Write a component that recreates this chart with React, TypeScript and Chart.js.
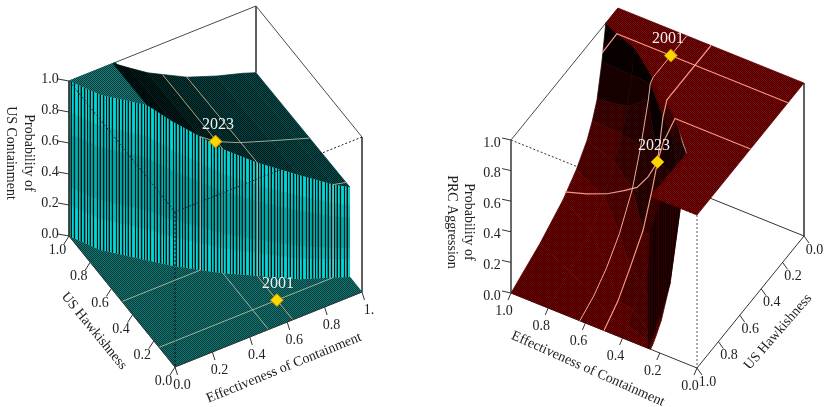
import React, { useEffect, useRef } from "react";
import { Chart, registerables } from "chart.js";

Chart.register(...registerables);

const zTicks = [0, 0.2, 0.4, 0.6, 0.8, 1];
const tickLabels = ["0.0", "0.2", "0.4", "0.6", "0.8", "1.0"];
const usEffectLabels = ["0.0", "0.2", "0.4", "0.6", "0.8", "1."];

// US containment surface: cliff line and surface height either side of it
const usCliffE = [0.236, 0.32, 0.42, 0.5, 0.63, 0.79, 0.93, 1];
const usCliffH = [0.68, 0.59, 0.5, 0.43, 0.335, 0.218, 0.15, 0.114];
const usCliffZ = [1, 0.93, 0.86, 0.8, 0.73, 0.67, 0.6, 0.58];
const usBackZ = [1, 0.93, 0.85, 0.8, 0.72, 0.65, 0.6, 0.57];
const usWallBaseE = [0, 0.08, 0.236, 0.32, 0.42, 0.5, 0.63, 0.79, 0.93, 1];
const usWallBaseH = [1, 0.85, 0.68, 0.59, 0.5, 0.43, 0.335, 0.218, 0.15, 0.114];
const usWallTopZ = [1, 1, 1, 0.93, 0.86, 0.8, 0.73, 0.67, 0.6, 0.58];
const usFlatE = [0, 0.25, 0.239, 0.236, 0.08];
const usFlatH = [1, 1, 0.817, 0.68, 0.85];

// US reference lines on the surface: [E, H, z] rows
const usLineE50: number[][] = [[0.5, 1, 0.8], [0.5, 0.43, 0.8]];
const usLineE63: number[][] = [[0.63, 1, 0.72], [0.63, 0.335, 0.73]];
const usLineH50: number[][] = [[0.42, 0.5, 0.86], [0.5, 0.5, 0.79], [0.63, 0.5, 0.72], [0.8, 0.5, 0.65], [1, 0.5, 0.57]];
const usLineH15: number[][] = [[0.93, 0.15, 0.6], [1, 0.15, 0.58]];
const usFloorLines: number[][][] = [
  [[0, 0.5, 0], [0.42, 0.5, 0]],
  [[0, 0.15, 0], [0.93, 0.15, 0]],
  [[0.5, 0, 0], [0.5, 0.43, 0]],
];
const usFloorLine63: number[][] = [[0.63, 0, 0], [0.63, 0.335, 0]];
const usWallLines: number[][][] = [
  [[0.42, 0.5, 0], [0.42, 0.5, 0.86]],
  [[0.63, 0.335, 0], [0.63, 0.335, 0.73]],
  [[0.93, 0.15, 0], [0.93, 0.15, 0.6]],
];
const usWallLineFaint: number[][] = [[0.5, 0.43, 0], [0.5, 0.43, 0.8]];
const us2023 = [0.5, 0.5, 0.79];
const us2001 = [0.63, 0.15, 0];

// PRC aggression surface: sloped sheet, one row per effectiveness value
const prcE = [1, 0.8, 0.63, 0.5, 0.4, 0.3, 0.25];
const prcH = [
  [0.114, 0.15, 0.196, 0.24, 0.29, 0.39, 0.514, 0.73, 1],
  [0.19, 0.22, 0.26, 0.31, 0.38, 0.48, 0.6, 0.8, 1],
  [0.316, 0.342, 0.36, 0.43, 0.51, 0.63, 0.75, 0.87, 1],
  [0.412, 0.449, 0.5, 0.551, 0.635, 0.757, 0.87, 0.94, 1],
  [0.5, 0.53, 0.57, 0.6, 0.7, 0.82, 0.9, 0.95, 1],
  [0.62, 0.66, 0.69, 0.72, 0.8, 0.88, 0.94, 0.97, 1],
  [0.67, 0.7, 0.71, 0.724, 0.818, 0.9, 0.95, 0.98, 1],
];
const prcZ = [
  [1, 0.78, 0.57, 0.47, 0.385, 0.28, 0.19, 0.09, 0],
  [1, 0.85, 0.68, 0.54, 0.42, 0.28, 0.17, 0.07, 0],
  [1, 0.98, 0.89, 0.65, 0.435, 0.25, 0.13, 0.05, 0],
  [1, 0.92, 0.67, 0.53, 0.34, 0.2, 0.08, 0.03, 0],
  [1, 0.9, 0.72, 0.62, 0.38, 0.2, 0.1, 0.04, 0],
  [1, 0.85, 0.73, 0.62, 0.3, 0.12, 0.05, 0.02, 0],
  [1, 0.8, 0.73, 0.67, 0.27, 0.1, 0.04, 0.01, 0],
];
const prcPlateauE = [1, 0, 0, 0.25, 0.244, 0.406, 0.63, 0.8, 0.92, 1];
const prcPlateauH = [0, 0, 1, 1, 0.669, 0.5, 0.316, 0.19, 0.15, 0.114];
const prcCliffE = [0.26, 0.377, 0.433, 0.4, 0.25, 0.25, 0.25];
const prcCliffH = [1, 0.8, 0.687, 0.6, 0.67, 0.724, 0.818];
const prcCliffZ = [0, 0.2, 0.4, 0.62, 1, 0.67, 0.27];

const prcLineH15: number[][] = [[1, 0.15, 0.835], [0.92, 0.15, 1], [0, 0.15, 1]];
const prcLineH50: number[][] = [[1, 0.5, 0.23], [0.88, 0.5, 0.275], [0.77, 0.5, 0.33], [0.68, 0.5, 0.395], [0.61, 0.5, 0.45], [0.55, 0.5, 0.55], [0.5, 0.5, 0.67], [0.47, 0.5, 0.81], [0.406, 0.5, 1], [0, 0.5, 1]];
const prcLineE50: number[][] = [[0.5, 0, 1], [0.5, 0.412, 1], [0.5, 0.449, 0.92], [0.5, 0.5, 0.67], [0.5, 0.551, 0.53], [0.5, 0.635, 0.34], [0.5, 0.757, 0.2], [0.5, 0.87, 0.08], [0.5, 1, 0]];
const prcLineE63: number[][] = [[0.63, 0, 1], [0.63, 0.316, 1], [0.63, 0.342, 0.98], [0.63, 0.36, 0.89], [0.63, 0.43, 0.65], [0.63, 0.51, 0.435], [0.63, 0.63, 0.25], [0.63, 0.75, 0.13], [0.63, 0.87, 0.05], [0.63, 1, 0]];
const prc2023 = [0.5, 0.5, 0.67];
const prc2001 = [0.63, 0.15, 1];

// ---------- view of each panel ----------
const pUS = (E: number, H: number, z: number) => ({ x: 175 + 187 * E - 106 * H, y: 367 - 75 * E - 131 * H - 155 * z });
const pPRC = (E: number, H: number, z: number) => ({ x: 804 - 186 * E - 107 * H, y: 236 - 75 * E + 132 * H - 153 * z });

const FONT = '"Liberation Serif", serif';

function patternFrom(rows: string[][]) {
  const c = document.createElement("canvas");
  c.height = rows.length;
  c.width = rows[0].length;
  const g = c.getContext("2d")!;
  rows.forEach((r, y) => r.forEach((col, x) => {
    g.fillStyle = col;
    g.fillRect(x, y, 1, 1);
  }));
  return g.createPattern(c, "repeat")!;
}
const dither = (a: string, b: string) => patternFrom([[a, b], [b, a]]);

function poly(points: { x: number; y: number }[], fill: any, bw = 0.7) {
  return {
    data: [...points, points[0]],
    showLine: true,
    fill: "shape",
    backgroundColor: fill,
    borderColor: fill,
    borderWidth: bw,
    pointRadius: 0,
    tension: 0,
  };
}
function line(points: { x: number; y: number }[], color: string, width = 1, dash: number[] = []) {
  return {
    data: points,
    showLine: true,
    fill: false,
    borderColor: color,
    backgroundColor: color,
    borderWidth: width,
    borderDash: dash,
    pointRadius: 0,
    tension: 0,
  };
}
function marker(p: { x: number; y: number }) {
  return {
    data: [p],
    showLine: false,
    pointStyle: "rectRot",
    pointRadius: 6.5,
    pointBackgroundColor: "#FFD400",
    pointBorderColor: "#B08C00",
    pointBorderWidth: 1,
  };
}

export default function App() {
  const ref = useRef<HTMLCanvasElement>(null);
  useEffect(() => {
    const ds: any[] = [];
    const at = (p: typeof pUS, r: number[]) => p(r[0], r[1], r[2]);
    const path = (p: typeof pUS, rows: number[][]) => rows.map((r) => at(p, r));
    const texts: any[] = [];

    // ---------- left panel ----------
    const boxCol = "#4a4a4a";
    const tealFloor = dither("#043c3c", "#137470");
    const tealFlat = dither("#063c3c", "#1a7c78");
    const topShades = [
      dither("#000606", "#001616"),
      dither("#000808", "#001c1c"),
      dither("#000c0c", "#012a2a"),
      dither("#001414", "#013a3a"),
      dither("#001a1a", "#024444"),
      dither("#001e1e", "#024a4a"),
      dither("#002020", "#024e4e"),
    ];
    const wallPattern = patternFrom([
      ["#00dada", "#00c8c8", "#000c0c", "#00d0d0", "#008888", "#000404", "#00d8d8", "#00bcbc", "#001010", "#009c9c", "#00dcdc", "#000404", "#00c8c8", "#009090", "#000c0c", "#00d8d8", "#00acac", "#000808", "#00c4c4"],
    ]);

    ds.push(line([pUS(0, 1, 1), pUS(1, 1, 1)], boxCol));
    ds.push(line([pUS(1, 1, 1), pUS(1, 0, 1)], boxCol));
    ds.push(line([pUS(1, 1, 1), pUS(1, 1, 0.57)], boxCol));
    ds.push(line([pUS(1, 0, 1), pUS(1, 0, 0)], boxCol));

    // floor
    const floorPts = [pUS(0, 0, 0), pUS(1, 0, 0)];
    for (let i = usWallBaseE.length - 1; i >= 0; i--) floorPts.push(pUS(usWallBaseE[i], usWallBaseH[i], 0));
    ds.push(poly(floorPts, tealFloor));
    // flat top corner
    ds.push(poly(usFlatE.map((E, i) => pUS(E, usFlatH[i], 1)), tealFlat));
    // sloped top, one strip per cliff sample
    for (let i = 0; i < usCliffE.length - 1; i++) {
      ds.push(poly([
        pUS(usCliffE[i], usCliffH[i], usCliffZ[i]),
        pUS(usCliffE[i + 1], usCliffH[i + 1], usCliffZ[i + 1]),
        pUS(usCliffE[i + 1], 1, usBackZ[i + 1]),
        pUS(usCliffE[i], 1, usBackZ[i]),
      ], topShades[i]));
    }
    // wall
    const wallPts = usWallBaseE.map((E, i) => pUS(E, usWallBaseH[i], usWallTopZ[i]));
    for (let i = usWallBaseE.length - 1; i >= 0; i--) wallPts.push(pUS(usWallBaseE[i], usWallBaseH[i], 0));
    ds.push(poly(wallPts, wallPattern, 0));
    // see-through darkening of the wall, in two soft bands
    [[0.2, 0.8, 0.14], [0.32, 0.66, 0.16]].forEach(([lo, hi, alpha]) => {
      const veil = usWallBaseE.map((E, i) => pUS(E, usWallBaseH[i], usWallTopZ[i] * hi));
      for (let i = usWallBaseE.length - 1; i >= 0; i--) veil.push(pUS(usWallBaseE[i], usWallBaseH[i], usWallTopZ[i] * lo));
      ds.push(poly(veil, `rgba(0,60,60,${alpha})`, 0));
    });

    // dotted hidden edges
    const dot = [2, 2];
    ds.push(line([pUS(1, 0, 1), pUS(0, 0, 1)], "#123", 1, dot));
    ds.push(line([pUS(0, 1, 1), pUS(0, 0, 1)], "#123", 1, dot));
    ds.push(line([pUS(0, 0, 1), pUS(0, 0, 0)], "#012", 1, dot));

    // reference lines
    const tan = "rgba(226,170,130,0.85)";
    const pale = "rgba(205,195,170,0.8)";
    const grey = "rgba(190,180,170,0.75)";
    ds.push(line(path(pUS, usLineE50), tan));
    ds.push(line(path(pUS, usLineE63), tan));
    ds.push(line(path(pUS, usLineH50), pale));
    ds.push(line(path(pUS, usLineH15), pale));
    usFloorLines.forEach((l) => ds.push(line(path(pUS, l), pale)));
    ds.push(line(path(pUS, usFloorLine63), tan));
    usWallLines.forEach((l) => ds.push(line(path(pUS, l), grey, 1.2)));
    ds.push(line(path(pUS, usWallLineFaint), "rgba(190,180,170,0.35)"));

    // axes of the left panel
    ds.push(line([pUS(0, 1, 1), pUS(0, 1, 0)], "#333"));
    ds.push(line([pUS(0, 0, 0), pUS(1, 0, 0)], "#333"));
    ds.push(line([pUS(0, 0, 0), pUS(0, 1, 0)], "#333"));
    zTicks.forEach((v, i) => {
      const a = pUS(0, 1, v);
      ds.push(line([a, { x: a.x - 11, y: a.y - 2 }], "#333"));
      texts.push({ t: tickLabels[i], x: a.x - 19, y: a.y - 2 });
      const b = pUS(0, v, 0);
      ds.push(line([b, { x: b.x - 5, y: b.y + 8 }], "#333"));
      texts.push({ t: tickLabels[i], x: b.x - 11.5, y: b.y + 14.5 });
      const c = pUS(v, 0, 0);
      ds.push(line([c, { x: c.x + 2.5, y: c.y + 8 }], "#333"));
      texts.push({ t: usEffectLabels[i], x: c.x + 7, y: c.y + 18.5 });
    });
    texts.push({ t: "Probability of", x: 29, y: 153, r: 90 });
    texts.push({ t: "US Containment", x: 11, y: 153, r: 90 });
    texts.push({ t: "US Hawkishness", x: 94, y: 331, r: 50.6 });
    texts.push({ t: "Effectiveness of Containment", x: 284, y: 368, r: -22.2 });
    ds.push(marker(at(pUS, us2023)));
    ds.push(marker(at(pUS, us2001)));
    texts.push({ t: "2023", x: 218, y: 125, s: 16, c: "#eef4f4" });
    texts.push({ t: "2001", x: 278, y: 284, s: 16, c: "#eef4f4" });

    // ---------- right panel ----------
    const redLevels = [
      dither("#300000", "#800000"),
      dither("#280000", "#680000"),
      dither("#1c0000", "#500000"),
      dither("#120000", "#380000"),
      dither("#0a0000", "#240000"),
      dither("#000000", "#100000"),
    ];
    const redPlateau = dither("#380000", "#8a0404");
    const redCliff = patternFrom([["#2c0000", "#200000", "#140000", "#260000", "#100000", "#2a0000", "#180000"]]);

    ds.push(line([pPRC(1, 1, 1), pPRC(1, 0, 1)], boxCol));
    ds.push(line([pPRC(0, 0, 1), pPRC(0, 0, 0)], boxCol));
    ds.push(line([pPRC(1, 1, 1), pPRC(0, 1, 1)], "#333", 1, dot));
    ds.push(line([pPRC(0, 1, 1), pPRC(0, 1, 0)], "#555", 1, dot));
    ds.push(line([pPRC(1, 0, 0), pPRC(0, 0, 0)], "#333"));
    ds.push(line([pPRC(1, 1, 0), pPRC(0, 1, 0)], "#333"));
    ds.push(line([pPRC(0, 1, 0), pPRC(0, 0, 0)], "#333"));
    ds.push(line([pPRC(1, 1, 1), pPRC(1, 1, 0)], "#555"));

    // sloped sheet: darker the steeper the cell
    for (let c = 0; c < prcE.length - 1; c++) {
      for (let r = 0; r < prcH[c].length - 1; r++) {
        const slope = (prcZ[c][r] - prcZ[c][r + 1]) / (prcH[c][r + 1] - prcH[c][r]);
        const lvl = slope > 5 ? 5 : slope > 3.6 ? 4 : slope > 2.6 ? 3 : slope > 1.7 ? 2 : slope > 1 ? 1 : 0;
        ds.push(poly([
          pPRC(prcE[c], prcH[c][r], prcZ[c][r]),
          pPRC(prcE[c + 1], prcH[c + 1][r], prcZ[c + 1][r]),
          pPRC(prcE[c + 1], prcH[c + 1][r + 1], prcZ[c + 1][r + 1]),
          pPRC(prcE[c], prcH[c][r + 1], prcZ[c][r + 1]),
        ], redLevels[lvl]));
      }
    }
    ds.push(poly(prcCliffE.map((E, i) => pPRC(E, prcCliffH[i], prcCliffZ[i])), redCliff));
    ds.push(poly(prcPlateauE.map((E, i) => pPRC(E, prcPlateauH[i], 1)), redPlateau));

    const salmon = "rgba(250,160,140,0.95)";
    ds.push(line(path(pPRC, prcLineH15), salmon, 1.2));
    ds.push(line(path(pPRC, prcLineH50), salmon, 1.2));
    ds.push(line(path(pPRC, prcLineE50), salmon, 1.2));
    ds.push(line(path(pPRC, prcLineE63), "rgba(245,190,170,0.9)", 1));

    zTicks.forEach((v, i) => {
      const a = pPRC(1, 1, v);
      ds.push(line([a, { x: a.x - 9, y: a.y - 2 }], "#333"));
      texts.push({ t: tickLabels[i], x: a.x - 19, y: a.y + 3 });
      const b = pPRC(v, 1, 0);
      ds.push(line([b, { x: b.x - 3, y: b.y + 7 }], "#333"));
      texts.push({ t: tickLabels[i], x: b.x - 7, y: b.y + 18 });
      const c = pPRC(0, v, 0);
      ds.push(line([c, { x: c.x + 5, y: c.y + 7 }], "#333"));
      texts.push({ t: tickLabels[i], x: c.x + 10.5, y: c.y + 14 });
    });
    texts.push({ t: "Probability of", x: 469, y: 222, r: 90 });
    texts.push({ t: "PRC Aggression", x: 452, y: 222, r: 90 });
    texts.push({ t: "Effectiveness of Containment", x: 588, y: 369, r: 24 });
    texts.push({ t: "US Hawkishness", x: 778, y: 332, r: -49 });
    ds.push(marker(at(pPRC, prc2023)));
    ds.push(marker(at(pPRC, prc2001)));
    texts.push({ t: "2023", x: 654, y: 146, s: 16, c: "#f6f0f0" });
    texts.push({ t: "2001", x: 668, y: 39, s: 16, c: "#f6f0f0" });

    // painter's order: the library draws the first dataset last
    const ordered = ds.slice().reverse();

    const textPlugin = {
      id: "panelText",
      afterDatasetsDraw(chart: any) {
        const g = chart.ctx;
        texts.forEach((o) => {
          g.save();
          g.translate(o.x, o.y);
          if (o.r) g.rotate((o.r * Math.PI) / 180);
          g.font = `${o.s || 14}px ${FONT}`;
          g.fillStyle = o.c || "#222";
          g.textAlign = "center";
          g.textBaseline = "middle";
          g.fillText(o.t, 0, 0);
          g.restore();
        });
      },
    };

    const chart = new Chart(ref.current!, {
      type: "scatter",
      data: { datasets: ordered },
      options: {
        animation: false,
        responsive: false,
        devicePixelRatio: 1,
        events: [],
        layout: { padding: 0, autoPadding: false },
        scales: {
          x: { type: "linear", min: 0, max: 826, display: false },
          y: { type: "linear", min: 0, max: 407, reverse: true, display: false },
        },
        plugins: {
          legend: { display: false },
          tooltip: { enabled: false },
          filler: { drawTime: "beforeDatasetDraw" },
        },
      } as any,
      plugins: [textPlugin],
    } as any);
    return () => chart.destroy();
  }, []);

  return (
    <div style={{ position: "fixed", left: 0, top: 0, width: 826, height: 407, background: "#fff" }}>
      <canvas ref={ref} width={826} height={407} style={{ display: "block" }} />
    </div>
  );
}
